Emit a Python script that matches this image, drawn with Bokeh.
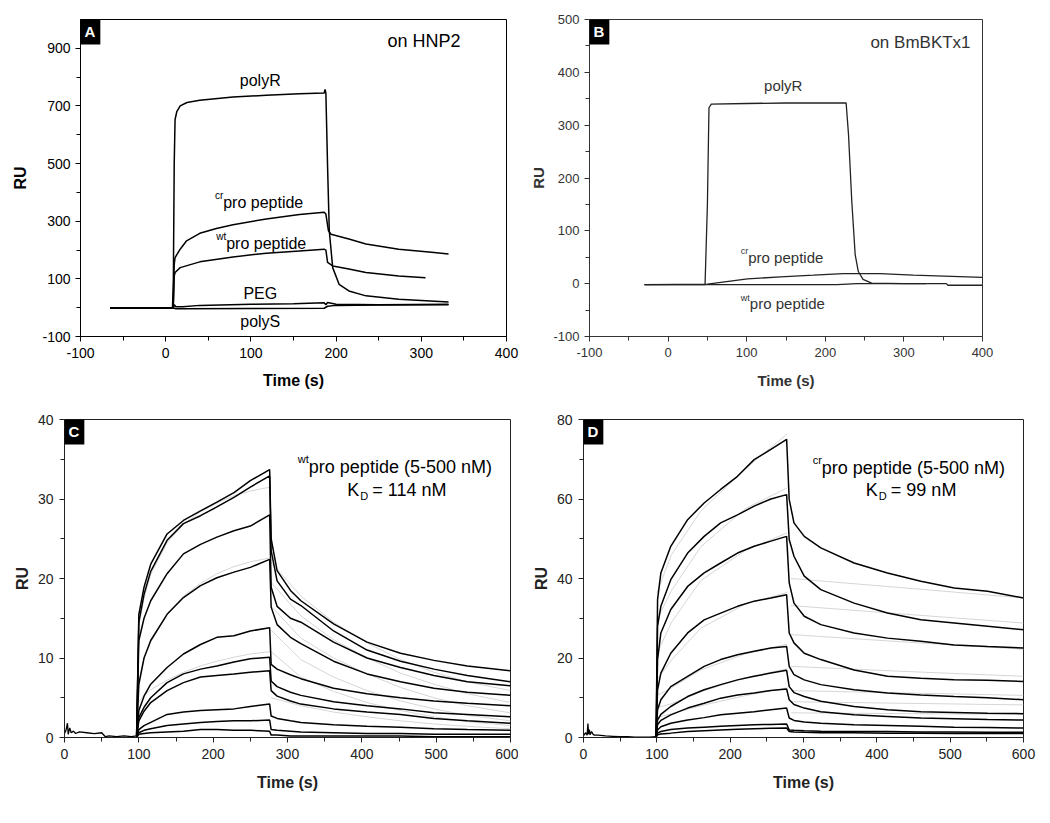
from bokeh.plotting import figure
from bokeh.layouts import column, row
from bokeh.models import Range1d, FixedTicker, Label
from bokeh.embed import file_html
from bokeh.resources import INLINE

FONT = "Liberation Sans"

# ---------------- Panel A (on HNP2) ----------------
A_T_POLYR = [-65, 8, 9, 10, 11, 13, 17, 25, 40, 79, 118, 157, 186, 187, 188, 190, 192, 196, 203.5, 215, 235, 273.5, 332]
A_RU_POLYR = [-1, -1, 100, 500, 653, 680, 700, 712, 720, 731, 737, 742, 745, 757, 745, 488, 267, 139, 81, 58, 41, 29, 20]
A_T_CR = [-65, 8, 9, 10, 11, 17, 24.5, 40, 59.5, 79, 118, 157, 186, 188, 191, 194, 215, 235, 273.5, 312, 332]
A_RU_CR = [-1, -1, 20, 150, 174, 203, 232, 258, 275, 288, 308, 323, 331, 325, 267, 255, 238, 221, 203, 192, 186]
A_T_WT = [-65, 8, 9, 10, 11, 17, 40, 79, 118, 157, 186, 188, 190, 196, 215, 235, 273.5, 305]
A_RU_WT = [-1, -1, 10, 110, 122, 139, 159, 176, 189, 197, 203, 200, 157, 145, 134, 122, 110, 104]
A_T_PEG = [-65, 9, 10, 12, 20, 40, 100, 150, 186, 188, 190, 200, 250, 332]
A_RU_PEG = [-1, -1, 10, 3, 3, 8, 12, 14, 17, 10, 18, 12, 10, 12]
A_T_POLYS = [-65, 9, 12, 20, 100, 186, 190, 200, 250, 332]
A_RU_POLYS = [-1, -1, -4, -4, -3, -2, 5, 8, 9, 10]

# ---------------- Panel B (on BmBKTx1) ----------------
B_T_POLYR = [-30, 47, 50, 52, 55, 100, 150, 200, 226.5, 229.5, 233.7, 238, 242, 248, 259, 300, 328]
B_RU_POLYR = [-2, -2, 150, 333, 340, 341, 342, 342, 342, 283, 156, 55, 23, 8, 1, 0, 0]
B_T_CR = [-30, 50, 101, 143, 185, 223, 269.5, 312, 400]
B_RU_CR = [-2, -1, 9, 13, 16, 19, 19, 16, 12]
B_T_WT = [-30, 100, 215, 240, 300, 354, 356, 400]
B_RU_WT = [-2, -2, -2, 0, 0, 0, -3, -3]

# ---------------- Panel C (wt pro peptide, 5-500 nM) ----------------
C_T_BASE = [0, 2, 4, 5, 7, 9, 12, 15, 20, 30, 40, 50, 55, 60, 70, 80, 90, 97]
C_RU_BASE = [0.5, 0.9, 1.8, 0.4, 1.2, 0.6, 0.8, 0.5, 0.7, 0.6, 0.5, 0.6, 0.1, 0.2, 0.1, 0.2, 0.1, 0.2]
C_T = [97, 100, 107, 116, 138, 160, 183, 205, 228, 250, 276, 278, 286, 304, 318, 362, 407, 452, 497, 542, 600]
C_RU_1 = [0.3, 15.5, 18.9, 21.8, 25.6, 27.3, 28.5, 29.6, 30.8, 32.3, 33.7, 25.0, 21.0, 18.5, 17.2, 14.3, 12.0, 10.6, 9.7, 9.0, 8.4]
C_RU_2 = [0.3, 14.5, 18.0, 20.9, 24.8, 26.9, 27.9, 29.0, 30.2, 31.5, 32.9, 23.5, 19.7, 17.4, 16.6, 13.4, 11.0, 9.6, 8.6, 7.8, 7.0]
C_RU_3 = [0.2, 12.2, 15.0, 17.2, 20.6, 23.1, 24.3, 25.2, 26.0, 26.6, 28.0, 18.9, 16.5, 15.0, 14.5, 12.0, 10.0, 8.8, 7.8, 7.0, 6.5]
C_RU_4 = [0.2, 6.7, 10.0, 12.2, 15.5, 17.6, 19.1, 20.1, 20.8, 21.4, 22.4, 16.4, 14.2, 12.6, 11.8, 9.6, 8.0, 7.0, 6.2, 5.7, 5.3]
C_RU_5 = [0.1, 3.4, 5.2, 6.7, 8.8, 10.5, 11.7, 12.6, 12.8, 13.4, 13.8, 9.2, 8.6, 7.9, 7.4, 6.2, 5.5, 5.0, 4.6, 4.3, 4.0]
C_RU_6 = [0.1, 2.5, 3.8, 5.0, 6.9, 8.0, 8.6, 9.0, 9.5, 9.9, 10.1, 7.1, 6.4, 5.7, 5.3, 4.5, 4.0, 3.6, 3.1, 2.9, 2.6]
C_RU_7 = [0.1, 2.1, 3.3, 4.4, 5.9, 6.9, 7.6, 7.8, 8.0, 8.2, 8.4, 5.9, 5.2, 4.6, 4.2, 3.6, 3.2, 2.9, 2.4, 2.1, 1.8]
C_RU_8 = [0.0, 1.0, 1.5, 1.9, 2.9, 3.2, 3.4, 3.5, 3.6, 3.9, 4.2, 2.7, 2.4, 2.1, 1.9, 1.6, 1.4, 1.3, 1.1, 1.0, 0.9]
C_RU_9 = [0.0, 0.6, 0.9, 1.1, 1.5, 1.7, 1.9, 2.0, 2.1, 2.1, 2.2, 1.0, 0.9, 0.8, 0.7, 0.6, 0.5, 0.5, 0.4, 0.4, 0.4]
C_RU_10 = [0.0, 0.4, 0.5, 0.6, 0.7, 0.8, 1.0, 1.0, 0.9, 0.9, 0.8, 0.3, 0.3, 0.2, 0.2, 0.2, 0.2, 0.2, 0.1, 0.1, 0.1]
# grey fitted curves
C_T_FIT_ASSOC = [97, 100, 107, 116, 138, 160, 183, 205, 228, 250, 277]
C_FIT_ASSOC_1 = [0, 14, 17.5, 20.5, 24.5, 26.8, 28.4, 29.5, 30.4, 31.0, 31.5]
C_FIT_ASSOC_2 = [0, 7, 10, 12, 15.5, 17.8, 19.4, 20.6, 21.5, 22.1, 22.6]
C_FIT_ASSOC_3 = [0, 4.5, 5.3, 6.0, 7.2, 8.2, 9.0, 9.6, 10.1, 10.5, 10.8]
C_T_FIT_DISS = [278, 318, 362, 407, 452, 497, 542, 600]
C_FIT_DISS_1 = [22.0, 17.8, 14.5, 11.9, 9.8, 8.2, 7.0, 5.9]
C_FIT_DISS_2 = [19.5, 15.3, 12.3, 10.0, 8.1, 6.7, 5.5, 4.4]
C_FIT_DISS_3 = [16.5, 12.5, 10.0, 8.0, 6.3, 5.0, 4.0, 3.1]
C_FIT_DISS_4 = [13.5, 9.8, 7.6, 5.9, 4.6, 3.6, 2.8, 2.1]
C_FIT_DISS_5 = [10.8, 7.6, 5.8, 4.4, 3.4, 2.6, 2.0, 1.5]
C_FIT_DISS_6 = [5.0, 4.0, 3.2, 2.6, 2.1, 1.7, 1.4, 1.1]

# ---------------- Panel D (cr pro peptide, 5-500 nM) ----------------
D_T_BASE = [0, 3, 5, 6, 7, 8, 9, 11, 13, 15, 20, 30, 40, 50, 60, 70, 80, 90, 99]
D_RU_BASE = [0.5, 1.2, 0.6, 3.5, 0.8, 2.0, 0.7, 1.5, 0.8, 0.6, 0.6, 0.4, 0.3, 0.2, 0.2, 0.1, 0.1, 0.1, 0.2]
D_T = [99, 101, 105.5, 119, 142, 164.5, 187, 210, 232.7, 255.5, 277, 280.5, 287, 301, 323.6, 369, 414.5, 460, 505.5, 551, 600]
D_RU_1 = [0.5, 34.7, 41.4, 48.1, 54.8, 59.0, 62.4, 65.7, 69.9, 72.5, 75.0, 59.9, 54.0, 50.6, 47.7, 43.9, 41.4, 39.3, 37.6, 36.8, 35.1]
D_RU_2 = [0.5, 28.0, 33.0, 39.7, 46.4, 50.6, 54.0, 56.0, 58.2, 60.0, 61.1, 49.8, 45.6, 40.6, 37.2, 33.8, 31.3, 29.6, 28.8, 28.0, 27.1]
D_RU_3 = [0.5, 19.6, 26.3, 32.2, 38.0, 41.4, 43.9, 46.4, 48.1, 49.4, 50.6, 38.9, 33.8, 30.5, 28.4, 26.3, 25.0, 24.2, 23.3, 22.9, 22.5]
D_RU_4 = [0.3, 12.0, 16.2, 21.2, 26.3, 29.6, 31.3, 33.0, 34.3, 35.1, 35.9, 26.3, 23.8, 21.2, 19.6, 17.0, 15.4, 14.9, 14.5, 14.4, 14.1]
D_RU_5 = [0.3, 7.0, 9.5, 12.8, 15.4, 17.9, 19.6, 20.8, 21.7, 22.5, 22.9, 17.9, 15.8, 14.5, 13.3, 12.0, 11.2, 10.7, 10.3, 10.0, 9.5]
D_RU_6 = [0.2, 4.4, 5.8, 7.8, 10.3, 12.0, 13.3, 14.5, 15.4, 16.2, 16.9, 12.8, 11.3, 10.3, 9.1, 7.8, 7.0, 6.5, 6.3, 6.1, 6.0]
D_RU_7 = [0.2, 3.2, 4.3, 5.7, 7.4, 8.6, 9.9, 10.7, 11.2, 11.8, 12.2, 9.5, 8.3, 7.4, 6.5, 5.7, 5.3, 4.9, 4.7, 4.5, 4.4]
D_RU_8 = [0.1, 1.9, 2.7, 3.6, 4.4, 5.0, 5.7, 6.1, 6.5, 7.0, 7.4, 4.9, 4.3, 3.9, 3.6, 3.2, 3.0, 2.8, 2.6, 2.5, 2.4]
D_RU_9 = [0.1, 1.1, 1.5, 2.0, 2.4, 2.6, 2.8, 3.0, 3.2, 3.3, 3.4, 1.9, 1.8, 1.7, 1.6, 1.5, 1.5, 1.4, 1.4, 1.3, 1.3]
D_RU_10 = [0.0, 0.7, 0.9, 1.1, 1.5, 1.7, 1.9, 2.1, 2.2, 2.3, 2.4, 1.5, 1.4, 1.3, 1.2, 1.2, 1.1, 1.1, 1.0, 1.0, 1.0]
D_T_FIT_ASSOC = [100, 120, 160, 220, 278]
D_FIT_ASSOC_1 = [36.4, 46.0, 57.0, 67.5, 76.4]
D_FIT_ASSOC_2 = [29.5, 37.0, 48.0, 57.5, 62.8]
D_FIT_ASSOC_3 = [21.0, 29.0, 39.5, 47.0, 51.5]
D_FIT_ASSOC_4 = [14.5, 19.5, 27.5, 33.5, 36.5]
D_FIT_ASSOC_5 = [10.5, 12.5, 17.0, 21.0, 23.5]
D_FIT_ASSOC_6 = [7.5, 8.5, 11.5, 15.0, 17.3]
D_FIT_ASSOC_7 = [5.0, 6.0, 8.0, 10.5, 12.5]
D_T_FIT_DISS = [283, 440, 600]
D_FIT_DISS_1 = [40.0, 37.6, 35.1]
D_FIT_DISS_2 = [33.2, 31.0, 28.8]
D_FIT_DISS_3 = [25.9, 24.0, 22.2]
D_FIT_DISS_4 = [17.9, 16.6, 15.4]
D_FIT_DISS_5 = [11.8, 11.2, 10.6]
D_FIT_DISS_6 = [9.0, 8.6, 8.2]
D_FIT_DISS_7 = [6.2, 6.0, 5.8]


def make_fig(width, height, bl, br, bt, bb, xr, yr, xt, xm, yt, ym,
             tick_size, label_size, ylab_standoff, xlab_standoff, tick_standoff_y,
             color="black"):
    p = figure(width=width, height=height, x_range=Range1d(*xr), y_range=Range1d(*yr),
               output_backend="svg", toolbar_location=None,
               min_border_left=bl, min_border_right=br, min_border_top=bt, min_border_bottom=bb)
    p.xgrid.visible = False
    p.ygrid.visible = False
    p.outline_line_color = color
    p.outline_line_width = 1
    p.background_fill_color = "white"
    p.border_fill_color = "white"
    p.xaxis.ticker = FixedTicker(ticks=xt, minor_ticks=xm)
    p.yaxis.ticker = FixedTicker(ticks=yt, minor_ticks=ym)
    # plain hyphen-minus for negative tick labels, as in the original
    p.xaxis.major_label_overrides = {t: str(t) for t in xt}
    p.yaxis.major_label_overrides = {t: str(t) for t in yt}
    for ax in (p.xaxis[0], p.yaxis[0]):
        ax.axis_line_color = color
        ax.major_tick_line_color = color
        ax.minor_tick_line_color = color
        ax.major_tick_out = 5
        ax.major_tick_in = 0
        ax.minor_tick_out = 4
        ax.minor_tick_in = 0
        ax.major_label_text_font = FONT
        ax.major_label_text_font_size = f"{tick_size}px"
        ax.major_label_text_color = color
        ax.axis_label_text_font = FONT
        ax.axis_label_text_font_size = f"{label_size}px"
        ax.axis_label_text_font_style = "bold"
        ax.axis_label_text_color = color
    p.xaxis.axis_label = "Time (s)"
    p.yaxis.axis_label = "RU"
    p.xaxis.major_label_standoff = 6
    p.yaxis.major_label_standoff = tick_standoff_y
    p.yaxis.axis_label_standoff = ylab_standoff
    p.xaxis.axis_label_standoff = xlab_standoff
    return p


def txt(p, x, y, s, size, color="black", align="left", baseline="middle", xo=0, yo=0):
    p.add_layout(Label(x=x, y=y, text=s, text_font=FONT, text_font_size=f"{size}px",
                       text_color=color, text_align=align, text_baseline=baseline,
                       x_offset=xo, y_offset=yo))


def letter(p, x, y, s):
    p.add_layout(Label(x=x, y=y, text=s, text_font=FONT, text_font_size="15px",
                       text_font_style="bold", text_color="white", text_align="left",
                       text_baseline="top", background_fill_color="black",
                       padding=5, x_offset=-1, y_offset=2))


# ---- A ----
pA = make_fig(527, 400, 80, 21, 19, 64, (-100, 400), (-100, 1000),
              [-100, 0, 100, 200, 300, 400], [-50, 50, 150, 250, 350],
              [-100, 100, 300, 500, 700, 900], [0, 200, 400, 600, 800],
              14, 16, 10, 11, 5)
for t, v in [(A_T_POLYR, A_RU_POLYR), (A_T_CR, A_RU_CR), (A_T_WT, A_RU_WT),
             (A_T_PEG, A_RU_PEG), (A_T_POLYS, A_RU_POLYS)]:
    pA.line(t, v, line_color="black", line_width=1.5)
letter(pA, -100, 1000, "A")
txt(pA, 346, 927, "on HNP2", 18, align="right")
txt(pA, 111, 788, "polyR", 16, align="center")
txt(pA, 67.5, 366, "pro peptide", 16)
txt(pA, 67.5, 366, "cr", 10, align="right", yo=7)
txt(pA, 71, 224, "pro peptide", 16)
txt(pA, 71, 224, "wt", 10, align="right", yo=7)
txt(pA, 111, 49, "PEG", 16, align="center")
txt(pA, 111, -48, "polyS", 16, align="center")

# ---- B ----
GB = "#333333"
pB = make_fig(513, 400, 60, 58, 19, 64, (-100, 400), (-100, 500),
              [-100, 0, 100, 200, 300, 400], [-50, 50, 150, 250, 350],
              [-100, 0, 100, 200, 300, 400, 500], [-50, 50, 150, 250, 350, 450],
              13, 15, 3, 12, 5, color=GB)
for t, v in [(B_T_POLYR, B_RU_POLYR), (B_T_CR, B_RU_CR), (B_T_WT, B_RU_WT)]:
    pB.line(t, v, line_color="#222222", line_width=1.3)
letter(pB, -100, 500, "B")
txt(pB, 384.8, 456.5, "on BmBKTx1", 17, color=GB, align="right")
txt(pB, 146.5, 375, "polyR", 15, color=GB, align="center")
txt(pB, 102, 50, "pro peptide", 15, color=GB)
txt(pB, 102, 50, "cr", 9, color=GB, align="right", yo=6)
txt(pB, 104, -38, "pro peptide", 15, color=GB)
txt(pB, 104, -38, "wt", 9, color=GB, align="right", yo=6)

# ---- C ----
pC = make_fig(518, 415, 64, 8, 19, 78, (0, 600), (0, 40),
              [0, 100, 200, 300, 400, 500, 600], [50, 150, 250, 350, 450, 550],
              [0, 10, 20, 30, 40], [5, 15, 25, 35],
              14, 16, 4, 12, 6, color="#222222")
GREY = "#d6d6d6"
for v in [C_FIT_ASSOC_1, C_FIT_ASSOC_2, C_FIT_ASSOC_3]:
    pC.line(C_T_FIT_ASSOC, v, line_color=GREY, line_width=1)
for v in [C_FIT_DISS_1, C_FIT_DISS_2, C_FIT_DISS_3, C_FIT_DISS_4, C_FIT_DISS_5, C_FIT_DISS_6]:
    pC.line(C_T_FIT_DISS, v, line_color=GREY, line_width=1)
pC.line(C_T_BASE, C_RU_BASE, line_color="black", line_width=1.3)
for v in [C_RU_1, C_RU_2, C_RU_3, C_RU_4, C_RU_5, C_RU_6, C_RU_7, C_RU_8, C_RU_9, C_RU_10]:
    pC.line(C_T, v, line_color="black", line_width=1.5)
letter(pC, 0, 40, "C")
txt(pC, 328.7, 34.0, "pro peptide (5-500 nM)", 18)
txt(pC, 328.7, 34.0, "wt", 11, align="right", yo=8)
txt(pC, 380.3, 31.07, "K", 18)
txt(pC, 380.3, 31.07, "D", 11, xo=13, yo=-6)
txt(pC, 380.3, 31.07, "= 114 nM", 18, xo=25)

# ---- D ----
pD = make_fig(522, 415, 65, 17, 19, 78, (0, 600), (0, 80),
              [0, 100, 200, 300, 400, 500, 600], [50, 150, 250, 350, 450, 550],
              [0, 20, 40, 60, 80], [10, 30, 50, 70],
              14, 16, 4, 12, 6, color="#222222")
for v in [D_FIT_ASSOC_1, D_FIT_ASSOC_2, D_FIT_ASSOC_3, D_FIT_ASSOC_4, D_FIT_ASSOC_5,
          D_FIT_ASSOC_6, D_FIT_ASSOC_7]:
    pD.line(D_T_FIT_ASSOC, v, line_color=GREY, line_width=1)
for v in [D_FIT_DISS_1, D_FIT_DISS_2, D_FIT_DISS_3, D_FIT_DISS_4, D_FIT_DISS_5,
          D_FIT_DISS_6, D_FIT_DISS_7]:
    pD.line(D_T_FIT_DISS, v, line_color=GREY, line_width=1)
pD.line(D_T_BASE, D_RU_BASE, line_color="black", line_width=1.3)
for v in [D_RU_1, D_RU_2, D_RU_3, D_RU_4, D_RU_5, D_RU_6, D_RU_7, D_RU_8, D_RU_9, D_RU_10]:
    pD.line(D_T, v, line_color="black", line_width=1.5)
letter(pD, 0, 80, "D")
txt(pD, 325, 67.8, "pro peptide (5-500 nM)", 18)
txt(pD, 325, 67.8, "cr", 11, align="right", yo=8)
txt(pD, 385, 62.2, "K", 18)
txt(pD, 385, 62.2, "D", 11, xo=13, yo=-6)
txt(pD, 385, 62.2, "= 99 nM", 18, xo=25)

layout = column(row(pA, pB), row(pC, pD))
open("out.html", "w").write(file_html(layout, INLINE))
